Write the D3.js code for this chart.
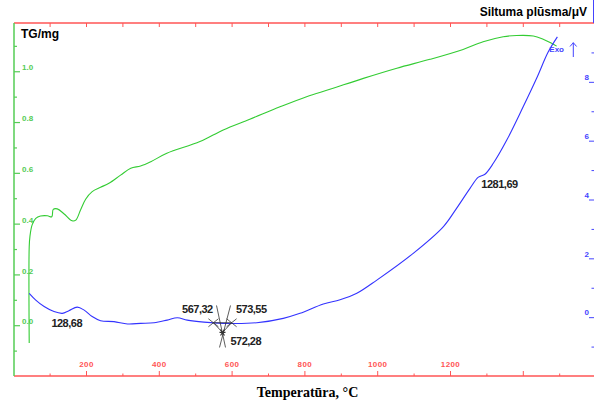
<!DOCTYPE html>
<html lang="en">
<head>
<meta charset="UTF-8" />
<title>TG / DSC</title>
<script src="https://d3js.org/d3.v7.min.js"></script>
<style>
  body { margin: 0; background: #fff; }
  svg { display: block; }
  .tick text { font: bold 8px "Liberation Sans", Arial, sans-serif; }
  .note { font: bold 11px "Liberation Sans", Arial, sans-serif; fill: #222; letter-spacing: -0.5px; }
  .title { font: bold 12px "Liberation Sans", Arial, sans-serif; fill: #000; }
</style>
</head>
<body>
<svg width="594" height="405"></svg>
<script>
// TG curve (temperature °C, mass mg)
const tgTemp = [44, 44, 46, 52, 62, 75, 94, 106, 110, 121, 140, 162, 172, 185, 199, 217, 240, 263,
  295, 323, 350, 378, 422, 513, 577, 650, 733, 806, 870, 962, 1054, 1145, 1236, 1291, 1346, 1383,
  1429, 1456, 1479, 1493];
const tgValue = [-0.07, 0.31, 0.35, 0.395, 0.421, 0.43, 0.431, 0.427, 0.456, 0.458, 0.438, 0.411,
  0.414, 0.454, 0.496, 0.526, 0.543, 0.559, 0.591, 0.618, 0.627, 0.644, 0.677, 0.723, 0.769, 0.811,
  0.86, 0.9, 0.929, 0.972, 1.012, 1.047, 1.086, 1.116, 1.136, 1.141, 1.139, 1.126, 1.11, 1.099];

// DSC curve (temperature °C, heat flow µV)
const dscTemp = [44, 62, 85, 112, 135, 153, 176, 195, 217, 240, 277, 314, 350, 387, 423, 451, 478,
  524, 577, 669, 742, 788, 852, 898, 944, 999, 1099, 1182, 1218, 1255, 1278, 1296, 1319, 1356,
  1401, 1438, 1470, 1495];
const dscValue = [0.81, 0.58, 0.36, 0.19, 0.13, 0.22, 0.34, 0.24, 0.02, -0.12, -0.15, -0.23, -0.21,
  -0.19, -0.10, -0.02, -0.10, -0.17, -0.21, -0.19, -0.04, 0.13, 0.45, 0.59, 0.81, 1.26, 2.17, 3.08,
  3.70, 4.38, 4.76, 4.86, 5.23, 6.02, 7.15, 8.12, 9.02, 9.53];

// peak notes
const noteText = ["128,68", "567,32", "573,55", "572,28", "1281,69"];
const noteTemp = [147, 506, 654, 639, 1336];
const noteValue = [-0.32, 0.13, 0.13, -0.96, 4.39];

// onset / end construction around the 572 °C peak
const crossTemp = [550, 600];
const crossValue = -0.19;
const starTemp = 575;
const starValue = -0.52;

const xTicks = d3.range(100, 1600, 100);
const xLabels = [200, 400, 600, 800, 1000, 1200];
const tgTicks = d3.range(-1, 12).map(i => i / 10);
const dscTicks = d3.range(-1, 10);

const svg = d3.select("svg");
const red = "#f55", green = "#5c5", blue = "#44f";

const x = d3.scaleLinear().domain([0, 1600]).range([13.2, 595.6]);
const yTG = d3.scaleLinear().domain([-0.2, 1.19]).range([376, 23]);
const yDSC = d3.scaleLinear().domain([-2, 10]).range([376, 23]);

// bottom axis
const bottomAxis = svg.append("g")
  .attr("transform", "translate(0,376)")
  .call(d3.axisTop(x).tickValues(xTicks).tickSize(5).tickPadding(4)
    .tickFormat(d => xLabels.includes(d) ? d : ""));
bottomAxis.select(".domain").remove();
bottomAxis.selectAll(".tick line").attr("stroke", red).attr("y2", d => d % 200 === 0 ? -5 : -2.5);
bottomAxis.selectAll(".tick text").attr("fill", red).style("letter-spacing", "0.4px");
svg.append("line").attr("x1", 14).attr("x2", 594).attr("y1", 376).attr("y2", 376)
  .attr("stroke", red).attr("stroke-width", 1.5);

// top axis
const topAxis = svg.append("g")
  .attr("transform", "translate(0,23)")
  .call(d3.axisBottom(x).tickValues(xTicks).tickSize(4).tickFormat(""));
topAxis.select(".domain").remove();
topAxis.selectAll(".tick line").attr("stroke", red);
svg.append("line").attr("x1", 14).attr("x2", 594).attr("y1", 23).attr("y2", 23)
  .attr("stroke", red).attr("stroke-width", 1.5);

// left TG axis
const tgAxis = svg.append("g")
  .attr("transform", "translate(14,0)")
  .call(d3.axisRight(yTG).tickValues(tgTicks).tickSize(6).tickPadding(2)
    .tickFormat(d => {
      const k = Math.round(d * 10);
      return k >= 0 && k <= 10 && k % 2 === 0 ? d3.format(".1f")(k / 10) : "";
    }));
tgAxis.select(".domain").remove();
tgAxis.selectAll(".tick line").attr("stroke", green).attr("stroke-width", 1.2)
  .attr("x2", d => Math.round(d * 10) % 2 === 0 ? 6 : 3);
tgAxis.selectAll(".tick text").attr("fill", green).attr("dy", "-0.16em");
svg.append("line").attr("x1", 14).attr("x2", 14).attr("y1", 23).attr("y2", 376)
  .attr("stroke", green).attr("stroke-width", 1.5);

// right DSC axis
const dscAxis = svg.append("g")
  .attr("transform", "translate(594,0)")
  .call(d3.axisLeft(yDSC).tickValues(dscTicks).tickSize(5).tickPadding(0)
    .tickFormat(d => d % 2 === 0 ? d : ""));
dscAxis.select(".domain").remove();
dscAxis.selectAll(".tick line").attr("stroke", blue).attr("x2", d => d % 2 === 0 ? -5 : -2.5);
dscAxis.selectAll(".tick text").attr("fill", blue).attr("dy", "-0.28em");
svg.append("line").attr("x1", 593.5).attr("x2", 593.5).attr("y1", 0).attr("y2", 23)
  .attr("stroke", blue);

// curves
const tgLine = d3.line().x(d => x(d[0])).y(d => yTG(d[1])).curve(d3.curveCatmullRom.alpha(0.5));
const dscLine = d3.line().x(d => x(d[0])).y(d => yDSC(d[1])).curve(d3.curveCatmullRom.alpha(0.5));

svg.append("path").datum(d3.zip(tgTemp, tgValue))
  .attr("d", tgLine).attr("fill", "none").attr("stroke", "#3c3").attr("stroke-width", 1.1);
svg.append("path").datum(d3.zip(dscTemp, dscValue))
  .attr("d", dscLine).attr("fill", "none").attr("stroke", "#33f").attr("stroke-width", 1.1);

// peak construction marks
const mark = svg.append("g").attr("stroke", "#333").attr("stroke-width", 0.8).attr("fill", "none");
const sx = x(starTemp), sy = yDSC(starValue);
const cx = crossTemp.map(t => x(t)), cy = yDSC(crossValue);
mark.append("path").attr("d", `M${sx - 6},${sy - 27}L${sx + 3},${sy + 15}`);
mark.append("path").attr("d", `M${sx + 8},${sy - 27}L${sx - 3},${sy + 15}`);
mark.append("path").attr("d", `M${cx[0]},${cy}L${cx[1]},${cy}L${sx},${sy}Z`);
cx.forEach(px => {
  mark.append("path").attr("d", `M${px - 5},${cy - 4}L${px + 5},${cy + 4}M${px - 5},${cy + 4}L${px + 5},${cy - 4}`);
});
mark.append("path").attr("stroke-width", 1.2)
  .attr("d", `M${sx - 3},${sy}L${sx + 3},${sy}M${sx - 2},${sy - 3}L${sx + 2},${sy + 3}M${sx + 2},${sy - 3}L${sx - 2},${sy + 3}`);

svg.selectAll(".note").data(noteText).join("text")
  .attr("class", "note")
  .attr("x", (d, i) => x(noteTemp[i]))
  .attr("y", (d, i) => yDSC(noteValue[i]))
  .attr("text-anchor", "middle")
  .text(d => d);

// Exo marker
svg.append("text").attr("x", 549.3).attr("y", 52)
  .style("font", "bold 8px 'Liberation Sans', Arial, sans-serif").attr("fill", blue).text("Exo");
svg.append("path").attr("d", "M573.3,57L573.3,42.7M570,46.5L573.3,42.7L576.6,46.5")
  .attr("stroke", blue).attr("fill", "none");

// titles
svg.append("text").attr("class", "title").attr("x", 21).attr("y", 38).text("TG/mg");
svg.append("text").attr("class", "title").attr("x", 587).attr("y", 15.5)
  .attr("text-anchor", "end").text("Siltuma plūsma/μV");
svg.append("text").attr("x", 307.5).attr("y", 396.5).attr("text-anchor", "middle")
  .style("font", "bold 14px 'Liberation Serif', 'Times New Roman', serif")
  .text("Temperatūra, °C");
</script>
</body>
</html>
